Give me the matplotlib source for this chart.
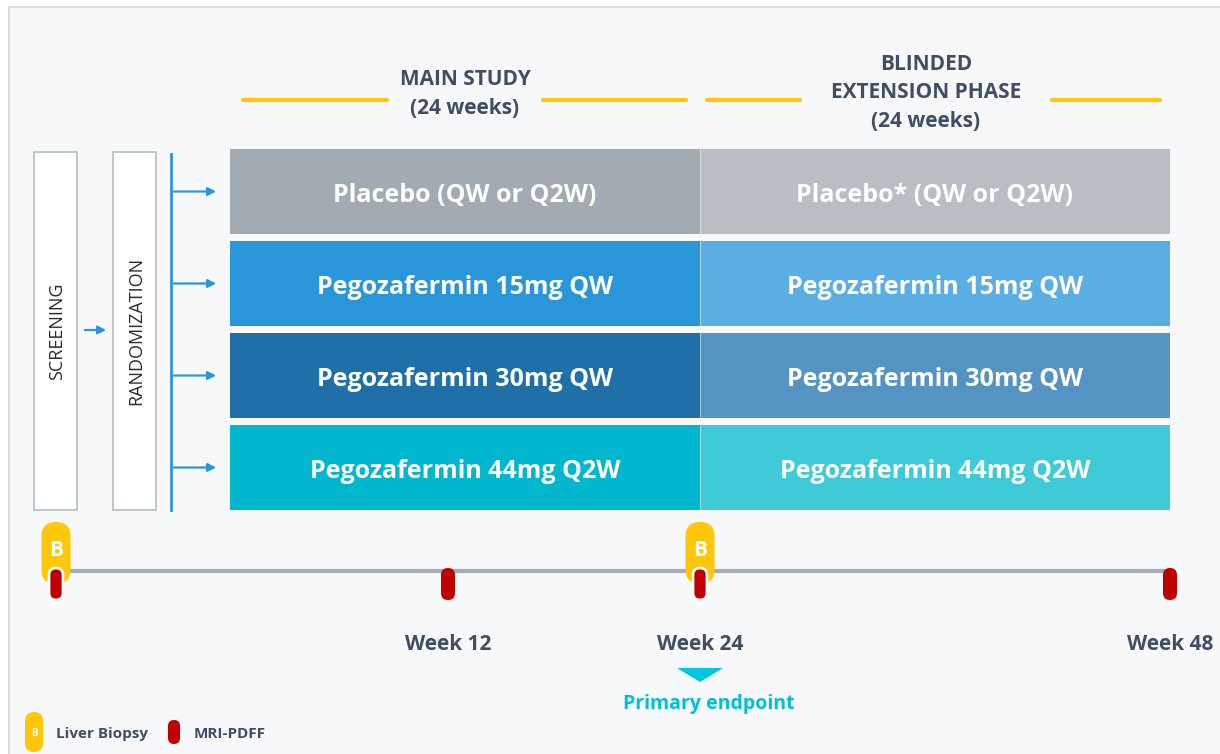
import matplotlib
matplotlib.use("Agg")
import matplotlib.pyplot as plt
from matplotlib.patches import Rectangle, FancyBboxPatch, Polygon

plt.rcParams['font.family'] = ['Open Sans', 'DejaVu Sans']

# data
arms_main = ["Placebo (QW or Q2W)", "Pegozafermin 15mg QW", "Pegozafermin 30mg QW", "Pegozafermin 44mg Q2W"]
arms_ext = ["Placebo* (QW or Q2W)", "Pegozafermin 15mg QW", "Pegozafermin 30mg QW", "Pegozafermin 44mg Q2W"]
main_colors = ["#A2ABB1", "#2A96DA", "#1F70A8", "#01B7CD"]
ext_colors = ["#B8BEC4", "#5BAEE3", "#5594C2", "#3ECAD6"]
phase_titles = ["MAIN STUDY\n(24 weeks)", "BLINDED\nEXTENSION PHASE\n(24 weeks)"]
weeks = [0, 12, 24, 48]
week_labels = ["", "Week 12", "Week 24", "Week 48"]
biopsy_weeks = [0, 24]
mri_weeks = [0, 12, 24, 48]

# layout (pixels)
W, H = 1220, 754
week_x = {0: 56, 12: 448, 24: 700, 48: 1170}
bar_x0, bar_mid, bar_x1 = 230, 700, 1170
row_top = [149, 241, 333, 425]
row_h = 85
dark = "#3F4E63"
yellow = "#FFC60A"
red = "#C00000"
cyan = "#00BFDA"
arrow_blue = "#2E95DA"

fig = plt.figure(figsize=(W / 100, H / 100), dpi=100)
ax = fig.add_axes([0, 0, 1, 1])
ax.set_xlim(0, W)
ax.set_ylim(H, 0)
ax.axis("off")
fig.patch.set_facecolor("white")

# panel background
ax.add_patch(Rectangle((9, 7), W, H, facecolor="#F7F8FA", edgecolor="#D3D7DC", lw=1.2))

# phase headers
ax.text(465, 94, phase_titles[0], ha="center", va="center", fontsize=15, fontweight="bold",
        color=dark, linespacing=1.45)
ax.text(926, 93, phase_titles[1], ha="center", va="center", fontsize=15, fontweight="bold",
        color=dark, linespacing=1.45)
for xa, xb in [(243, 387), (543, 686), (707, 800), (1052, 1160)]:
    ax.plot([xa, xb], [100, 100], color=yellow, lw=3, solid_capstyle="round")

# screening / randomization boxes
for x0, label in [(34, "SCREENING"), (113, "RANDOMIZATION")]:
    ax.add_patch(Rectangle((x0, 152), 43, 358, facecolor="white", edgecolor="#B4BCC4", lw=1.2))
    ax.text(x0 + 23, 331, label, rotation=90, ha="center", va="center", fontsize=13, color="#2B2B2B")

ax.annotate("", xy=(109, 330), xytext=(82, 330),
            arrowprops=dict(arrowstyle="-|>", color=arrow_blue, lw=1.6, mutation_scale=12))
ax.plot([171, 171], [154, 510], color=arrow_blue, lw=2)

# treatment arms
for i in range(len(arms_main)):
    y = row_top[i]
    ax.add_patch(Rectangle((bar_x0, y), bar_mid - bar_x0, row_h, facecolor=main_colors[i], edgecolor="none"))
    ax.add_patch(Rectangle((bar_mid, y), bar_x1 - bar_mid, row_h, facecolor=ext_colors[i], edgecolor="none"))
    ax.plot([bar_mid, bar_mid], [y, y + row_h], color="white", lw=0.6, alpha=0.6)
    cy = y + row_h / 2
    ax.text((bar_x0 + bar_mid) / 2, cy + 4, arms_main[i], ha="center", va="center", fontsize=18,
            fontweight="bold", color="white")
    ax.text((bar_mid + bar_x1) / 2, cy + 4, arms_ext[i], ha="center", va="center", fontsize=18,
            fontweight="bold", color="white")
    ax.annotate("", xy=(219, cy), xytext=(171, cy),
                arrowprops=dict(arrowstyle="-|>", color=arrow_blue, lw=1.6, mutation_scale=12))

# timeline
ax.plot([week_x[0], week_x[48]], [571, 571], color="#A5AEB6", lw=3, zorder=2)


def capsule(xc, ytop, w, h, color, edge="none", lw=0, z=3):
    ax.add_patch(FancyBboxPatch((xc - w / 2, ytop), w, h,
                                boxstyle="round,pad=0,rounding_size=%f" % (w / 2),
                                facecolor=color, edgecolor=edge, lw=lw, zorder=z))


for wk in biopsy_weeks:
    x = week_x[wk]
    capsule(x, 522, 29, 62, yellow, z=3)
    ax.text(x, 550, "B", ha="center", va="center", fontsize=15, fontweight="bold", color="white", zorder=4)

for wk in mri_weeks:
    x = week_x[wk]
    edge = "white" if wk in biopsy_weeks else "none"
    capsule(x, 568, 14, 32, red, edge=edge, lw=2, z=5)

for wk, lab in zip(weeks, week_labels):
    if lab:
        ax.text(week_x[wk], 644, lab, ha="center", va="center", fontsize=15, fontweight="bold", color=dark)

# primary endpoint
ax.add_patch(Polygon([[677, 668], [723, 668], [700, 682]], closed=True, facecolor="#00C6E0", edgecolor="none"))
ax.text(709, 704, "Primary endpoint", ha="center", va="center", fontsize=14, fontweight="bold", color=cyan)

# legend
capsule(34, 712, 18, 40, yellow)
ax.text(34, 733, "B", ha="center", va="center", fontsize=7, fontweight="bold", color="white", zorder=4)
ax.text(56, 734, "Liver Biopsy", ha="left", va="center", fontsize=11, fontweight="bold", color=dark)
capsule(174, 720, 12, 24, red)
ax.text(194, 734, "MRI-PDFF", ha="left", va="center", fontsize=11, fontweight="bold", color=dark)

fig.savefig("out.png", dpi=100)
